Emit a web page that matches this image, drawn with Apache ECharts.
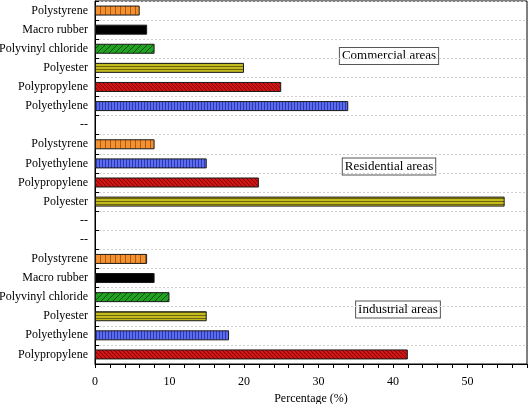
<!DOCTYPE html>
<html>
<head>
<meta charset="utf-8">
<script src="https://cdn.jsdelivr.net/npm/echarts@6/dist/echarts.min.js"></script>
<style>html,body{margin:0;padding:0;background:#fff;}#main{width:529px;height:404px;}</style>
</head>
<body>
<div id="main"></div>
<script>
// ---- data (bottom to top inside each group) ----
const industrialCats = ['Polypropylene','Polyethylene','Polyester','Polyvinyl chloride','Macro rubber','Polystyrene'];
const industrialVals = [42, 18, 15, 10, 8, 7];
const residentialCats = ['Polyester','Polypropylene','Polyethylene','Polystyrene'];
const residentialVals = [55, 22, 15, 8];
const commercialCats = ['Polyethylene','Polypropylene','Polyester','Polyvinyl chloride','Macro rubber','Polystyrene'];
const commercialVals = [34, 25, 20, 8, 7, 6];
const xTicks = [0, 10, 20, 30, 40, 50];
const areaLabels = ['Commercial areas','Residential areas','Industrial areas'];

// ---- build rows ----
const categories = [];
const values = [];
function addGroup(cats, vals){ cats.forEach((c,i)=>{categories.push(c); values.push(vals[i]);}); }
function addSep(){ categories.push('--'); values.push(null); }
addGroup(industrialCats, industrialVals);
addSep(); addSep();
addGroup(residentialCats, residentialVals);
addSep();
addGroup(commercialCats, commercialVals);

// ---- patterns ----
function tile(w,h,fill,line,draw){
  const c=document.createElement('canvas'); c.width=w; c.height=h;
  const g=c.getContext('2d'); g.fillStyle=fill; g.fillRect(0,0,w,h);
  g.strokeStyle=line; g.fillStyle=line; draw(g,w,h); return c;
}
const patterns = {
  'Polystyrene': tile(5,1,'#f5902e','#a85a18',(g)=>{g.fillRect(0,0,1,1);}),
  'Polyethylene': tile(3,1,'#5b6cf2','#2e3aa8',(g)=>{g.fillRect(0,0,1,1);}),
  'Polyester': tile(1,3,'#c4bc1c','#6a6410',(g)=>{g.fillRect(0,0,1,1);}),
  'Macro rubber': null,
  'Polyvinyl chloride': tile(6,6,'#21a321','#0e4a0e',(g,w,h)=>{g.lineWidth=1;g.beginPath();g.moveTo(0,h);g.lineTo(w,0);g.moveTo(-1,1);g.lineTo(1,-1);g.moveTo(w-1,h+1);g.lineTo(w+1,h-1);g.stroke();}),
  'Polypropylene': tile(4,4,'#d21414','#7a0a0a',(g,w,h)=>{g.lineWidth=1;g.beginPath();g.moveTo(0,0);g.lineTo(w,h);g.moveTo(-1,h-1);g.lineTo(1,h+1);g.moveTo(w-1,-1);g.lineTo(w+1,1);g.stroke();})
};
function colorFor(name){
  if(name==='Macro rubber') return '#000000';
  return {image: patterns[name], repeat:'repeat'};
}

const seriesData = values.map((v,i)=> v==null ? '-' : {value:v, itemStyle:{color: colorFor(categories[i])}});

const chart = echarts.init(document.getElementById('main'), null, {renderer:'canvas'});
const font = 'Liberation Serif';
const boxStyle = {font:'13px '+font, fill:'#000', align:'center', verticalAlign:'middle', backgroundColor:'#fff', borderColor:'#555', borderWidth:1, padding:[2,2,1,2]};
chart.setOption({
  animation:false,
  grid:{left:95, right:2, top:1, bottom:40, containLabel:false, outerBoundsMode:'none', show:true, borderColor:'#000', borderWidth:1, backgroundColor:'transparent'},
  xAxis:{
    type:'value', min:0, max:58, interval:2,
    axisLine:{show:true, lineStyle:{color:'#000', width:1}},
    axisTick:{show:true, length:4, lineStyle:{color:'#000'}},
    axisLabel:{color:'#000', fontFamily:font, fontSize:12, margin:12,
      formatter:(v)=> xTicks.indexOf(v)>=0 ? String(v) : ''},
    splitLine:{show:false},
    name:'Percentage (%)', nameLocation:'middle', nameGap:28,
    nameTextStyle:{color:'#000', fontFamily:font, fontSize:12}
  },
  yAxis:{
    type:'category', data:categories,
    axisLine:{show:true, lineStyle:{color:'#000', width:1}},
    axisTick:{show:true, inside:true, length:4, lineStyle:{color:'#000'}},
    axisLabel:{color:'#000', fontFamily:font, fontSize:12, margin:7, interval:0},
    splitLine:{show:true, lineStyle:{color:'#cfcfcf', type:[2,2], width:1}}
  },
  series:[{
    type:'bar', data:seriesData, barWidth:10,
    itemStyle:{borderColor:'#1a1a1a', borderWidth:1}
  }],
  graphic:[
    {type:'text', x:389, y:56, style:Object.assign({text:areaLabels[0]}, boxStyle)},
    {type:'text', x:389, y:166.5, style:Object.assign({text:areaLabels[1]}, boxStyle)},
    {type:'text', x:398, y:309.5, style:Object.assign({text:areaLabels[2]}, boxStyle)}
  ]
});
</script>
</body>
</html>
